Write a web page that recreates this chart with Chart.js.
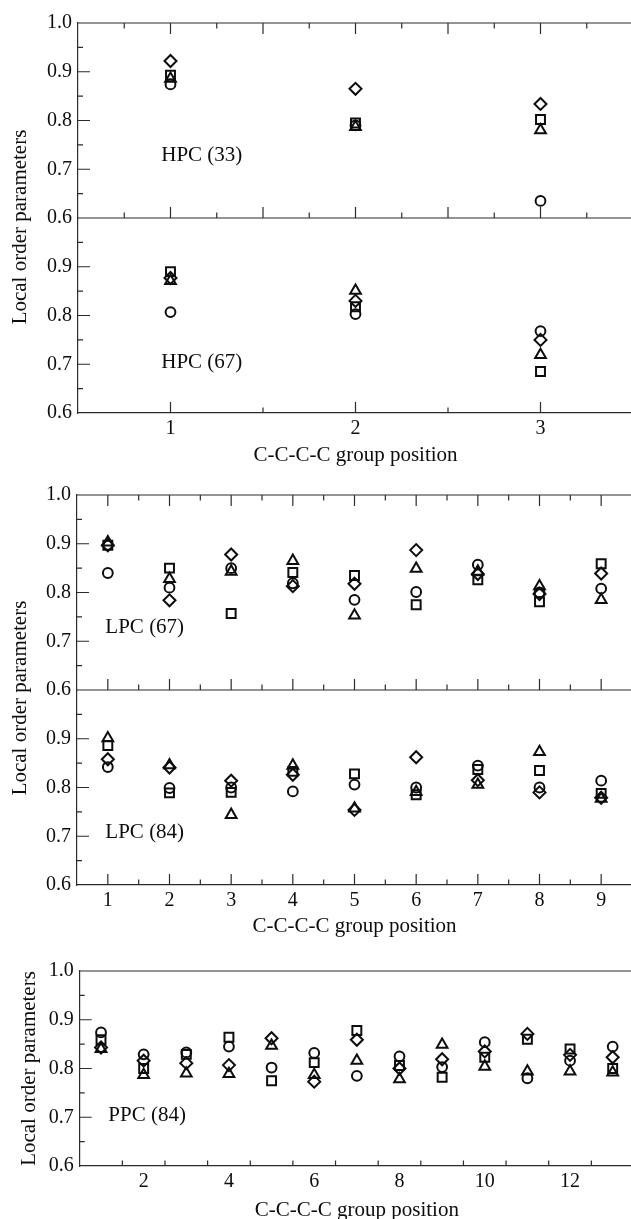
<!DOCTYPE html>
<html>
<head>
<meta charset="utf-8">
<title>Local order parameters</title>
<script src="https://cdn.jsdelivr.net/npm/chart.js@4.4.1/dist/chart.umd.min.js"></script>
<style>
  html, body { margin: 0; padding: 0; background: #fff; overflow: hidden; }
  body { width: 631px; height: 1219px; position: relative; }
  canvas { position: absolute; left: 0; }
</style>
</head>
<body>
<canvas id="hpcChart" width="633" height="470" style="top:0"></canvas>
<canvas id="lpcChart" width="632" height="470" style="top:470px"></canvas>
<canvas id="ppcChart" width="634" height="300" style="top:940px"></canvas>
<script>
/* Local order parameters per C-C-C-C group, HPC / LPC / PPC */

const INK = '#0d0d0d';
const AXIS = '#2b2b2b';
const SERIF = "'Liberation Serif', 'Times New Roman', serif";

Chart.defaults.font.family = SERIF;
Chart.defaults.color = INK;

// group positions along the chain
const HPC_POS = [1, 2, 3];
const LPC_POS = [1, 2, 3, 4, 5, 6, 7, 8, 9];
const PPC_POS = [1, 2, 3, 4, 5, 6, 7, 8, 9, 10, 11, 12, 13];

// tick labels
const HPC_TICKS = [1, 2, 3];
const LPC_TICKS = [1, 2, 3, 4, 5, 6, 7, 8, 9];
const PPC_TICKS = [2, 4, 6, 8, 10, 12];
const Y_TICKS = [0.6, 0.7, 0.8, 0.9, 1.0];

// HPC (33)
const HPC33_CIRCLE   = [0.874, 0.790, 0.635];
const HPC33_SQUARE   = [0.893, 0.795, 0.802];
const HPC33_DIAMOND  = [0.922, 0.865, 0.834];
const HPC33_TRIANGLE = [0.886, 0.787, 0.780];

// HPC (67)
const HPC67_CIRCLE   = [0.807, 0.803, 0.768];
const HPC67_SQUARE   = [0.890, 0.818, 0.685];
const HPC67_DIAMOND  = [0.877, 0.830, 0.750];
const HPC67_TRIANGLE = [0.871, 0.851, 0.719];

// LPC (67)
const LPC67_CIRCLE   = [0.840, 0.810, 0.850, 0.819, 0.785, 0.801, 0.857, 0.800, 0.808];
const LPC67_SQUARE   = [0.897, 0.850, 0.757, 0.841, 0.835, 0.775, 0.826, 0.781, 0.859];
const LPC67_DIAMOND  = [0.897, 0.784, 0.878, 0.813, 0.818, 0.887, 0.838, 0.797, 0.839];
const LPC67_TRIANGLE = [0.903, 0.828, 0.843, 0.865, 0.753, 0.849, 0.843, 0.813, 0.785];

// LPC (84)
const LPC84_CIRCLE   = [0.842, 0.799, 0.800, 0.792, 0.806, 0.800, 0.845, 0.800, 0.814];
const LPC84_SQUARE   = [0.886, 0.789, 0.790, 0.833, 0.828, 0.785, 0.837, 0.835, 0.788];
const LPC84_DIAMOND  = [0.858, 0.841, 0.814, 0.826, 0.754, 0.862, 0.815, 0.790, 0.779];
const LPC84_TRIANGLE = [0.901, 0.846, 0.744, 0.845, 0.757, 0.791, 0.806, 0.873, 0.777];

// PPC (84)
const PPC84_CIRCLE   = [0.874, 0.829, 0.833, 0.845, 0.802, 0.832, 0.785, 0.825, 0.803, 0.854, 0.780, 0.816, 0.845];
const PPC84_SQUARE   = [0.859, 0.800, 0.829, 0.864, 0.775, 0.812, 0.878, 0.806, 0.782, 0.823, 0.860, 0.840, 0.800];
const PPC84_DIAMOND  = [0.843, 0.816, 0.811, 0.807, 0.862, 0.773, 0.859, 0.800, 0.819, 0.835, 0.871, 0.828, 0.823];
const PPC84_TRIANGLE = [0.840, 0.787, 0.790, 0.789, 0.847, 0.787, 0.816, 0.778, 0.849, 0.804, 0.794, 0.794, 0.792];

const MARKERS = {
  circle:   { style: 'circle',   r: 4.9 },
  square:   { style: 'rect',     r: 6.3 },
  diamond:  { style: 'rectRot',  r: 6.0 },
  triangle: { style: 'triangle', r: 6.2 },
};

function series(pos, values, shape, axis) {
  const m = MARKERS[shape];
  return {
    data: pos.map((x, i) => ({ x, y: values[i] })),
    yAxisID: axis,
    showLine: false,
    pointStyle: m.style,
    pointRadius: m.r,
    pointHoverRadius: m.r,
    pointBorderWidth: 2,
    pointBorderColor: INK,
    pointBackgroundColor: 'rgba(0,0,0,0)',
    clip: false,
  };
}

function panelSeries(pos, circle, square, diamond, triangle, axis) {
  return [
    series(pos, circle, 'circle', axis),
    series(pos, square, 'square', axis),
    series(pos, triangle, 'triangle', axis),
    series(pos, diamond, 'diamond', axis),
  ];
}

function yScale(width, stack, hideTop) {
  return {
    type: 'linear',
    position: 'left',
    stack,
    stackWeight: 1,
    min: 0.6,
    max: 1.0,
    afterBuildTicks: s => { s.ticks = Y_TICKS.map(value => ({ value })); },
    afterFit: s => { s.width = width; },
    grid: { display: false, drawTicks: false },
    border: { display: true, color: AXIS, width: 1.2 },
    ticks: {
      padding: 6,
      font: { size: 20 },
      color: INK,
      callback: v => (hideTop && v > 0.99) ? '' : v.toFixed(1),
    },
  };
}

function xScale(max, ticks, height, titlePad) {
  return {
    type: 'linear',
    position: 'bottom',
    min: 0.5,
    max,
    afterBuildTicks: s => { s.ticks = ticks.map(value => ({ value })); },
    afterFit: s => { s.height = height; },
    grid: { display: false, drawTicks: false },
    border: { display: true, color: AXIS, width: 1.2 },
    ticks: { padding: 4, font: { size: 20 }, color: INK, maxRotation: 0, autoSkip: false,
             callback: v => String(v) },
    title: {
      display: true,
      text: 'C-C-C-C group position',
      font: { size: 21 },
      color: INK,
      padding: { top: 0, bottom: titlePad },
    },
  };
}

// frame lines between stacked panels plus inward tick marks
const panelFrame = {
  id: 'panelFrame',
  beforeDatasetsDraw(chart, args, opts) {
    const { ctx, chartArea: area, scales } = chart;
    const xs = scales.x;
    const seg = (x1, y1, x2, y2) => { ctx.moveTo(x1, y1); ctx.lineTo(x2, y2); };
    const steps = (min, max, minor, major, fn) => {
      const n = Math.round((max - min) / minor);
      for (let i = 1; i < n; i++) {
        const v = min + i * minor;
        fn(v, Math.abs(v / major - Math.round(v / major)) < 1e-6);
      }
    };
    ctx.save();
    ctx.strokeStyle = AXIS;
    ctx.lineWidth = 1.2;
    ctx.beginPath();
    for (const p of opts.panels) {
      const ys = scales[p.axis];
      seg(area.left, ys.top, area.right, ys.top);
      steps(ys.min, ys.max, 0.05, 0.1, (v, major) => {
        const py = ys.getPixelForValue(v);
        seg(area.left, py, area.left + (major ? 12 : 5), py);
      });
      if (p.topTicks) {
        steps(xs.min, xs.max, p.topTicks[1], p.topTicks[0], (v, major) => {
          const px = xs.getPixelForValue(v);
          seg(px, ys.top, px, ys.top + (major ? 11 : 5.5));
        });
      }
      if (p.bottomTicks) {
        steps(xs.min, xs.max, p.bottomTicks[1], p.bottomTicks[0], (v, major) => {
          const px = xs.getPixelForValue(v);
          seg(px, ys.bottom, px, ys.bottom - (major ? 11 : 5.5));
        });
      }
    }
    ctx.stroke();
    ctx.restore();
  }
};

// shared vertical axis title for a group of panels
const sideTitle = {
  id: 'sideTitle',
  afterDraw(chart, args, opts) {
    const { ctx, chartArea: a } = chart;
    ctx.save();
    ctx.translate(opts.x, (a.top + a.bottom) / 2 + opts.shift);
    ctx.rotate(-Math.PI / 2);
    ctx.font = `21px ${SERIF}`;
    ctx.fillStyle = INK;
    ctx.textAlign = 'center';
    ctx.textBaseline = 'alphabetic';
    ctx.fillText(opts.text, 0, 0);
    ctx.restore();
  }
};

// system name inside each panel
const panelLabels = {
  id: 'panelLabels',
  afterDatasetsDraw(chart, args, opts) {
    const { ctx, scales } = chart;
    ctx.save();
    ctx.font = `21px ${SERIF}`;
    ctx.fillStyle = INK;
    ctx.textAlign = 'left';
    ctx.textBaseline = 'alphabetic';
    for (const l of opts.items) {
      ctx.fillText(l.text, scales.x.getPixelForValue(l.x), scales[l.axis].getPixelForValue(l.y));
    }
    ctx.restore();
  }
};

function makeChart(id, datasets, scales, pad, plugins) {
  return new Chart(document.getElementById(id), {
    type: 'scatter',
    data: { datasets },
    options: {
      responsive: false,
      animation: false,
      devicePixelRatio: 1,
      // plot area runs right up to the canvas edge
      layout: { autoPadding: false, padding: { top: pad, left: 0, right: 0, bottom: 0 } },
      scales,
      plugins: Object.assign({ legend: { display: false }, tooltip: { enabled: false } }, plugins),
    },
    plugins: [panelFrame, sideTitle, panelLabels],
  });
}

// stacked y scales: the first one listed sits at the bottom
makeChart('hpcChart',
  [
    ...panelSeries(HPC_POS, HPC33_CIRCLE, HPC33_SQUARE, HPC33_DIAMOND, HPC33_TRIANGLE, 'y33'),
    ...panelSeries(HPC_POS, HPC67_CIRCLE, HPC67_SQUARE, HPC67_DIAMOND, HPC67_TRIANGLE, 'y67'),
  ],
  {
    x: xScale(3.5, HPC_TICKS, 57, 2),
    y67: yScale(78, 'hpc', true),
    y33: yScale(78, 'hpc', false),
  },
  23,
  {
    panelFrame: { panels: [
      { axis: 'y33', topTicks: [0.5, 0.25], bottomTicks: [0.5, 0.25] },
      { axis: 'y67', bottomTicks: [1, 0.5] },
    ] },
    sideTitle: { text: 'Local order parameters', x: 26, shift: 9 },
    panelLabels: { items: [
      { text: 'HPC (33)', x: 0.95, y: 0.717, axis: 'y33' },
      { text: 'HPC (67)', x: 0.95, y: 0.693, axis: 'y67' },
    ] },
  });

makeChart('lpcChart',
  [
    ...panelSeries(LPC_POS, LPC67_CIRCLE, LPC67_SQUARE, LPC67_DIAMOND, LPC67_TRIANGLE, 'y67'),
    ...panelSeries(LPC_POS, LPC84_CIRCLE, LPC84_SQUARE, LPC84_DIAMOND, LPC84_TRIANGLE, 'y84'),
  ],
  {
    x: xScale(9.5, LPC_TICKS, 55, 1),
    y84: yScale(77, 'lpc', true),
    y67: yScale(77, 'lpc', false),
  },
  25,
  {
    panelFrame: { panels: [
      { axis: 'y67', topTicks: [1, 0.5], bottomTicks: [1, 0.5] },
      { axis: 'y84', bottomTicks: [1, 0.5] },
    ] },
    sideTitle: { text: 'Local order parameters', x: 26, shift: 8 },
    panelLabels: { items: [
      { text: 'LPC (67)', x: 0.96, y: 0.716, axis: 'y67' },
      { text: 'LPC (84)', x: 0.96, y: 0.697, axis: 'y84' },
    ] },
  });

makeChart('ppcChart',
  panelSeries(PPC_POS, PPC84_CIRCLE, PPC84_SQUARE, PPC84_DIAMOND, PPC84_TRIANGLE, 'y'),
  {
    x: xScale(13.5, PPC_TICKS, 74, 17),
    y: yScale(79.7, undefined, false),
  },
  31,
  {
    panelFrame: { panels: [
      { axis: 'y', bottomTicks: [2, 1] },
    ] },
    sideTitle: { text: 'Local order parameters', x: 34.5, shift: 0 },
    panelLabels: { items: [
      { text: 'PPC (84)', x: 1.17, y: 0.692, axis: 'y' },
    ] },
  });
</script>
</body>
</html>
